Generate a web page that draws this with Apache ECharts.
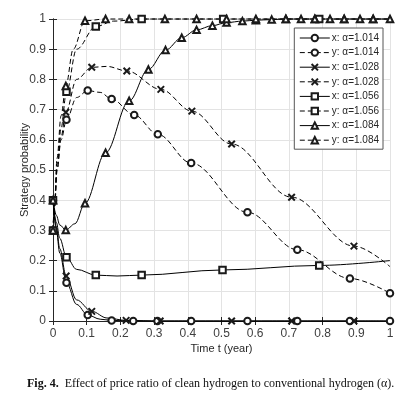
<!DOCTYPE html>
<html>
<head>
<meta charset="utf-8">
<script src="https://cdn.jsdelivr.net/npm/echarts@6/dist/echarts.min.js"></script>
<style>
  html, body { margin: 0; padding: 0; background: #fff; }
  #chart { width: 406px; height: 396px; }
</style>
</head>
<body>
<div id="chart"></div>
<script>
// tick labels
var xTicks = [0, 0.1, 0.2, 0.3, 0.4, 0.5, 0.6, 0.7, 0.8, 0.9, 1];
var yTicks = [0, 0.1, 0.2, 0.3, 0.4, 0.5, 0.6, 0.7, 0.8, 0.9, 1];

// [t, value, 1 = marker drawn at this sample]
var xA1014 = [[0, 0.4, 1], [0.01, 0.3], [0.02, 0.225], [0.04, 0.127, 1], [0.07, 0.055], [0.103, 0.02, 1], [0.14, 0.006], [0.174, 0.002, 1], [0.238, 0, 1], [0.31, 0, 1], [0.41, 0, 1], [0.577, 0, 1], [0.725, 0, 1], [0.881, 0, 1], [1, 0, 1]];
var yA1014 = [[0, 0.3, 1], [0.005, 0.38], [0.012, 0.5], [0.024, 0.6], [0.04, 0.666, 1], [0.07, 0.74], [0.103, 0.763, 1], [0.14, 0.757], [0.174, 0.735, 1], [0.241, 0.682, 1], [0.311, 0.618, 1], [0.41, 0.523, 1], [0.577, 0.36, 1], [0.725, 0.236, 1], [0.881, 0.141, 1], [1, 0.092, 1]];
var xA1028 = [[0, 0.4, 1], [0.01, 0.31], [0.02, 0.24], [0.039, 0.149, 1], [0.07, 0.07], [0.115, 0.032, 1], [0.16, 0.01], [0.217, 0.002, 1], [0.318, 0, 1], [0.53, 0, 1], [0.708, 0, 1], [0.893, 0, 1], [1, 0]];
var yA1028 = [[0, 0.3, 1], [0.005, 0.38], [0.012, 0.5], [0.024, 0.61], [0.038, 0.691, 1], [0.07, 0.8], [0.115, 0.84, 1], [0.16, 0.843], [0.219, 0.828, 1], [0.32, 0.767, 1], [0.412, 0.695, 1], [0.53, 0.586, 1], [0.708, 0.41, 1], [0.893, 0.248, 1], [1, 0.18]];
var xA1056 = [[0, 0.4, 1], [0.01, 0.326], [0.02, 0.274], [0.04, 0.211, 1], [0.07, 0.171], [0.127, 0.152, 1], [0.19, 0.149], [0.263, 0.152, 1], [0.503, 0.169, 1], [0.79, 0.184, 1], [1, 0.2]];
var yA1056 = [[0, 0.3, 1], [0.005, 0.39], [0.012, 0.52], [0.024, 0.64], [0.04, 0.759, 1], [0.07, 0.9], [0.127, 0.975, 1], [0.18, 0.993], [0.263, 1, 1], [0.505, 1, 1], [0.79, 1, 1], [1, 1]];
var xA1084 = [[0, 0.4, 1], [0.01, 0.35], [0.02, 0.318], [0.038, 0.301, 1], [0.065, 0.322], [0.095, 0.39, 1], [0.156, 0.557, 1], [0.226, 0.729, 1], [0.283, 0.833, 1], [0.334, 0.897, 1], [0.382, 0.938, 1], [0.426, 0.964, 1], [0.473, 0.978, 1], [0.515, 0.988, 1], [0.562, 0.993, 1], [0.602, 0.996, 1], [0.649, 0.998, 1], [0.691, 1, 1], [0.736, 1, 1], [0.777, 1, 1], [0.822, 1, 1], [0.864, 1, 1], [0.911, 1, 1], [0.95, 1, 1], [1, 1, 1]];
var yA1084 = [[0, 0.3, 1], [0.005, 0.4], [0.012, 0.54], [0.024, 0.68], [0.038, 0.778, 1], [0.06, 0.9], [0.095, 0.994, 1], [0.156, 1, 1], [0.226, 1, 1], [0.332, 1, 1], [0.426, 1, 1], [0.515, 1, 1], [0.602, 1, 1], [0.691, 1, 1], [0.777, 1, 1], [0.864, 1, 1], [0.95, 1, 1], [1, 1]];

var seriesNames = ['x: α=1.014', 'y: α=1.014', 'x: α=1.028', 'y: α=1.028', 'x: α=1.056', 'y: α=1.056', 'x: α=1.084', 'y: α=1.084'];
var seriesData = [xA1014, yA1014, xA1028, yA1028, xA1056, yA1056, xA1084, yA1084];

var crossPath = 'emptypath://M0,0L10,10M10,0L0,10';
var markers = ['emptyCircle', 'emptyCircle', crossPath, crossPath, 'emptyRect', 'emptyRect', 'emptyTriangle', 'emptyTriangle'];

var font = 'Liberation Sans, Arial, sans-serif';
var ink = '#262626';

var chart = echarts.init(document.getElementById('chart'));

var series = seriesData.map(function (d, i) {
  var dashed = i % 2 === 1;
  return {
    name: seriesNames[i],
    type: 'line',
    data: d,
    smooth: 0.35,
    smoothMonotone: 'x',
    clip: false,
    symbol: markers[i],
    showAllSymbol: true,
    symbolSize: function (v) { return v[2] ? 6.5 : 0; },
    color: '#000',
    itemStyle: { color: '#1a1a1a', borderColor: '#1a1a1a', borderWidth: 0.6 },
    lineStyle: { color: '#000', width: 1, type: dashed ? [5, 3] : 'solid' },
    emphasis: { disabled: true },
    animation: false
  };
});

chart.setOption({
  animation: false,
  title: {
    text: '{b|Fig. 4.}  Effect of price ratio of clean hydrogen to conventional hydrogen (α).',
    left: 22,
    top: 373,
    textStyle: {
      fontFamily: 'Liberation Serif, Times New Roman, serif',
      fontSize: 12,
      fontWeight: 'normal',
      color: '#111',
      rich: {
        b: { fontFamily: 'Liberation Serif, Times New Roman, serif', fontSize: 12, fontWeight: 'bold', color: '#111' }
      }
    }
  },
  legend: {
    orient: 'vertical',
    right: 23,
    top: 28,
    padding: [5, 4, 4, 5],
    itemGap: 4.6,
    itemWidth: 30,
    itemHeight: 8,
    backgroundColor: '#fff',
    borderColor: '#555',
    borderWidth: 1,
    borderRadius: 0,
    lineStyle: { width: 1 },
    itemStyle: { borderWidth: 0.8 },
    textStyle: { fontFamily: font, fontSize: 10, color: ink, padding: [0, 0, 0, -3] },
    data: seriesNames
  },
  grid: { left: 53, right: 16, top: 19, bottom: 75, containLabel: false },
  xAxis: [{
    type: 'value',
    min: 0, max: 1, interval: 0.1,
    name: 'Time t (year)',
    nameLocation: 'middle',
    nameGap: 22,
    nameMoveOverlap: false,
    nameTextStyle: { fontFamily: font, fontSize: 11, color: ink },
    axisLine: { show: true, lineStyle: { color: ink, width: 1 } },
    axisTick: { inside: true, length: 4, lineStyle: { color: ink } },
    axisLabel: { fontFamily: font, fontSize: 12, color: '#404040', margin: 7,
      formatter: function (v) { return xTicks.indexOf(Math.round(v * 10) / 10) >= 0 ? String(Math.round(v * 10) / 10) : ''; } },
    splitLine: { show: true, lineStyle: { color: '#e3e3e3', width: 1 } }
  }, {
    type: 'value',
    position: 'top',
    min: 0, max: 1, interval: 0.1,
    axisLine: { show: true, lineStyle: { color: ink, width: 1 } },
    axisTick: { inside: true, length: 4, lineStyle: { color: ink } },
    axisLabel: { show: false },
    splitLine: { show: false }
  }],
  yAxis: [{
    type: 'value',
    min: 0, max: 1, interval: 0.1,
    name: 'Strategy probability',
    nameLocation: 'middle',
    nameGap: 23,
    nameMoveOverlap: false,
    nameTextStyle: { fontFamily: font, fontSize: 11, color: ink },
    axisLine: { show: true, lineStyle: { color: ink, width: 1 } },
    axisTick: { inside: true, length: 4, lineStyle: { color: ink } },
    axisLabel: { fontFamily: font, fontSize: 12, color: '#404040', margin: 7,
      formatter: function (v) { return yTicks.indexOf(Math.round(v * 10) / 10) >= 0 ? String(Math.round(v * 10) / 10) : ''; } },
    splitLine: { show: true, lineStyle: { color: '#e3e3e3', width: 1 } }
  }, {
    type: 'value',
    position: 'right',
    min: 0, max: 1, interval: 0.1,
    axisLine: { show: true, lineStyle: { color: ink, width: 1 } },
    axisTick: { inside: true, length: 4, lineStyle: { color: ink } },
    axisLabel: { show: false },
    splitLine: { show: false }
  }],
  series: series
});
</script>
</body>
</html>
